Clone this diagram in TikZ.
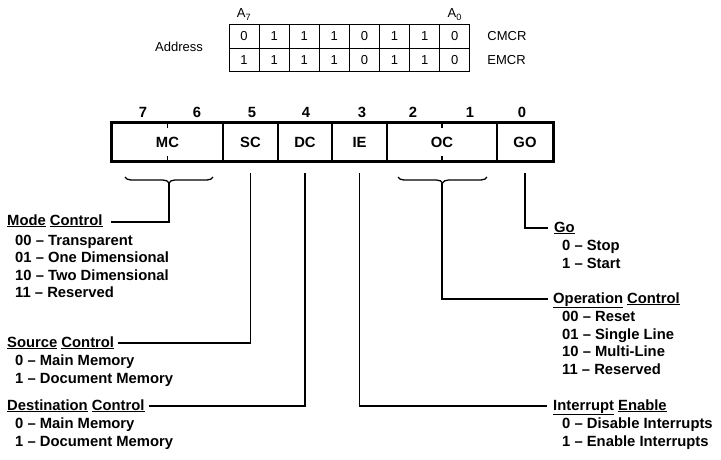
\documentclass[tikz,border=0pt]{standalone}
\usepackage{fontspec}
\setmainfont{Liberation Sans}
\usetikzlibrary{decorations.pathreplacing}
\begin{document}
\begin{tikzpicture}[x=1pt,y=-1pt,
  lbl/.style={font=\fontsize{14.8}{17.5}\selectfont\bfseries, inner sep=0pt},
  small/.style={font=\fontsize{13}{15}\selectfont, inner sep=0pt},
  tcell/.style={draw, line width=0.9pt, minimum width=30.1pt, minimum height=23.5pt, inner sep=0pt, font=\fontsize{13}{15}\selectfont},
  rcell/.style={draw, line width=1.8pt, minimum height=38pt, inner sep=0pt, font=\fontsize{14.8}{17.5}\selectfont\bfseries},
  conn/.style={line width=1.3pt},
  brc/.style={decorate, decoration={brace, amplitude=6pt}, line width=1.3pt}
]
\useasboundingbox (0,0) rectangle (721,459);

% ---- address table ----
\node[small] (addr) at (179,47) {Address};
\foreach \v [count=\i] in {0,1,1,1,0,1,1,0}
  \node[tcell] (a\i) at (229+30.1*\i-15.05,36.5) {\v};
\foreach \v [count=\i] in {1,1,1,1,0,1,1,0}
  \node[tcell] (b\i) at (229+30.1*\i-15.05,60) {\v};
\node[small, anchor=south] (a7) at ([yshift=4pt]a1.north) {A\textsubscript{7}};
\node[small, anchor=south] (a0) at ([yshift=4pt]a8.north) {A\textsubscript{0}};
\node[small, anchor=west] (cmcr) at ([xshift=17pt]a8.east) {CMCR};
\node[small, anchor=west] (emcr) at ([xshift=17pt]b8.east) {EMCR};

% ---- register ----
\node[rcell, minimum width=111pt] (mc) at (167.5,142) {MC};
\node[rcell, minimum width=55pt] (sc) at (250.5,142) {SC};
\node[rcell, minimum width=54pt] (dc) at (305,142) {DC};
\node[rcell, minimum width=55pt] (ie) at (359.5,142) {IE};
\node[rcell, minimum width=110pt] (oc) at (442,142) {OC};
\node[rcell, minimum width=56pt] (go) at (525,142) {GO};
\draw[line width=2.8pt] (mc.north west) rectangle (go.south east);
\draw[line width=1.3pt] (mc.north) -- ++(0,6) (mc.south) -- ++(0,-6);
\draw[line width=1.3pt] (oc.north) -- ++(0,6) (oc.south) -- ++(0,-6);

\foreach \b/\x in {7/143,6/197,5/252,4/306,3/362,2/413,1/470,0/522}
  \node[lbl] (bit\b) at (\x,112) {\b};

% ---- braces ----
\draw[brc] (213,177) -- (125,177);
\coordinate (mctip) at (169,183);
\draw[brc] (487,177) -- (398,177);
\coordinate (octip) at (442,183);

% ---- left descriptions ----
\node[lbl, anchor=base west] (hmc) at (7,225) {\underline{Mode} \underline{Control}};
\foreach \t [count=\i] in {00 – Transparent,01 – One Dimensional,10 – Two Dimensional,11 – Reserved}
  \node[lbl, anchor=base west] (mcl\i) at (15,225+20+17.5*\i-17.5) {\t};

\node[lbl, anchor=base west] (hsc) at (7,347) {\underline{Source} \underline{Control}};
\foreach \t [count=\i] in {0 – Main Memory,1 – Document Memory}
  \node[lbl, anchor=base west] (scl\i) at (15,347+18.5+17.5*\i-17.5) {\t};

\node[lbl, anchor=base west] (hdc) at (7,410) {\underline{Destination} \underline{Control}};
\foreach \t [count=\i] in {0 – Main Memory,1 – Document Memory}
  \node[lbl, anchor=base west] (dcl\i) at (15,410+18.5+17.5*\i-17.5) {\t};

% ---- right descriptions ----
\node[lbl, anchor=base west] (hgo) at (554,232) {\underline{Go}};
\foreach \t [count=\i] in {0 – Stop,1 – Start}
  \node[lbl, anchor=base west] (gol\i) at (562,232+18.5+17.5*\i-17.5) {\t};

\node[lbl, anchor=base west] (hoc) at (553,303) {\underline{Operation} \underline{Control}};
\foreach \t [count=\i] in {00 – Reset,01 – Single Line,10 – Multi-Line,11 – Reserved}
  \node[lbl, anchor=base west] (ocl\i) at (562,303+18.5+17.5*\i-17.5) {\t};

\node[lbl, anchor=base west] (hie) at (553,410) {\underline{Interrupt} \underline{Enable}};
\foreach \t [count=\i] in {0 – Disable Interrupts,1 – Enable Interrupts}
  \node[lbl, anchor=base west] (iel\i) at (562,410+18.5+17.5*\i-17.5) {\t};

% ---- connectors ----
\draw[conn] (mctip) |- ([xshift=8pt,yshift=3pt]hmc.base east);
\draw[conn] ([yshift=-11pt]sc.south) |- ([xshift=4pt,yshift=4pt]hsc.base east);
\draw[conn] ([yshift=-11pt]dc.south) |- ([xshift=4pt,yshift=4pt]hdc.base east);
\draw[conn] ([yshift=-11pt]ie.south) |- ([xshift=-6pt,yshift=4pt]hie.base west);
\draw[conn] (octip) |- ([xshift=-5pt,yshift=4pt]hoc.base west);
\draw[conn] ([yshift=-11pt]go.south) |- ([xshift=-6pt,yshift=4pt]hgo.base west);
\end{tikzpicture}
\end{document}
